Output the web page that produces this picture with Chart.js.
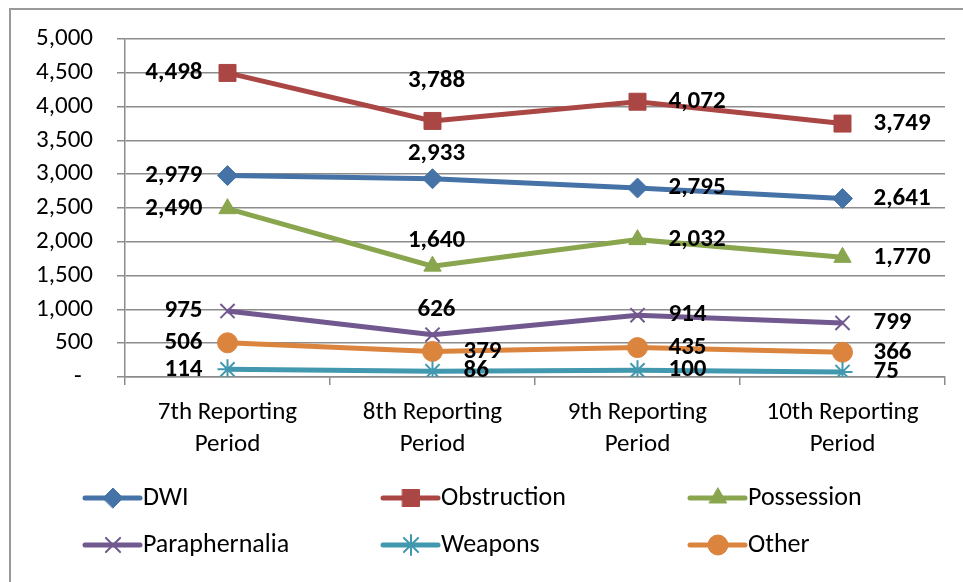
<!DOCTYPE html>
<html>
<head>
<meta charset="utf-8">
<title>Offenses by Reporting Period</title>
<script src="https://cdn.jsdelivr.net/npm/chart.js@4.4.1/dist/chart.umd.min.js"></script>
<style>
  body { margin: 0; background: #fff; }
  canvas { display: block; }
</style>
</head>
<body>
<canvas id="lineChart" width="963" height="582"></canvas>
<script>
// categories along the x axis (two-line labels)
const periods = [
  ['7th Reporting', 'Period'],
  ['8th Reporting', 'Period'],
  ['9th Reporting', 'Period'],
  ['10th Reporting', 'Period']
];

// offense counts per reporting period
const dwi           = [2979, 2933, 2795, 2641];
const obstruction   = [4498, 3788, 4072, 3749];
const possession    = [2490, 1640, 2032, 1770];
const paraphernalia = [975, 626, 914, 799];
const weapons       = [114, 86, 100, 75];
const other         = [506, 379, 435, 366];

// y axis range
const yMin = 0;
const yMax = 5000;
const yStep = 500;

const FONT = "Carlito, Lato, 'Liberation Sans', sans-serif";
const GRID = '#8c8c8c';

function series(label, values, color, style, radius, labelAt) {
  const stroked = style === 'crossRot' || style === 'star';
  return {
    label: label,
    data: values,
    borderColor: color,
    backgroundColor: color,
    borderWidth: 5,
    pointStyle: style,
    pointRadius: radius,
    pointBorderWidth: stroked ? 2 : 1,
    pointBackgroundColor: color,
    pointBorderColor: color,
    tension: 0,
    labelAt: labelAt
  };
}

const datasets = [
  series('DWI', dwi, '#4572A7', 'rectRot', 10, ['left', 'above', 'right', 'right']),
  series('Obstruction', obstruction, '#AA4643', 'rect', 12, ['left', 'high', 'right', 'right']),
  series('Possession', possession, '#89A54E', 'triangle', 10, ['left', 'above', 'right', 'right']),
  series('Paraphernalia', paraphernalia, '#71588F', 'crossRot', 10, ['left', 'above', 'right', 'right']),
  series('Weapons', weapons, '#4198AF', 'star', 10, ['left', 'right', 'right', 'right']),
  series('Other', other, '#DB843D', 'circle', 10, ['left', 'right', 'right', 'right'])
];

// bold value labels next to every point
const valueLabels = {
  id: 'valueLabels',
  afterDatasetsDraw(chart) {
    const ctx = chart.ctx;
    ctx.save();
    ctx.font = 'bold 25px ' + FONT;
    ctx.fillStyle = '#000';
    ctx.textBaseline = 'middle';
    chart.data.datasets.forEach((ds, i) => {
      chart.getDatasetMeta(i).data.forEach((pt, j) => {
        const text = ds.data[j].toLocaleString('en-US');
        const spot = ds.labelAt[j];
        if (spot === 'left') {
          ctx.textAlign = 'right';
          ctx.fillText(text, pt.x - 25, pt.y);
        } else if (spot === 'right') {
          ctx.textAlign = 'left';
          ctx.fillText(text, pt.x + 31, pt.y);
        } else {
          ctx.textAlign = 'center';
          ctx.fillText(text, pt.x + 4, pt.y - (spot === 'high' ? 40 : 25));
        }
      });
    });
    ctx.restore();
  }
};

// legend in three columns below the axis
const gridLegend = {
  id: 'gridLegend',
  afterDraw(chart) {
    const ctx = chart.ctx;
    const cols = [85, 383, 690];
    const rows = [498, 545];
    ctx.save();
    chart.data.datasets.forEach((ds, i) => {
      const x = cols[i % 3];
      const y = rows[Math.floor(i / 3)];
      ctx.strokeStyle = ds.borderColor;
      ctx.fillStyle = ds.backgroundColor;
      ctx.lineWidth = 5;
      ctx.lineCap = 'round';
      ctx.beginPath();
      ctx.moveTo(x, y);
      ctx.lineTo(x + 55, y);
      ctx.stroke();
      ctx.lineWidth = ds.pointBorderWidth;
      Chart.helpers.drawPoint(ctx, {
        pointStyle: ds.pointStyle,
        radius: ds.pointRadius,
        rotation: 0,
        borderWidth: ds.pointBorderWidth
      }, x + 28, y);
      ctx.fillStyle = '#000';
      ctx.font = '26px ' + FONT;
      ctx.textAlign = 'left';
      ctx.textBaseline = 'middle';
      ctx.fillText(ds.label, x + 58, y);
    });
    ctx.restore();
  }
};

// frame along the top and left edges
const frame = {
  id: 'frame',
  beforeDraw(chart) {
    const ctx = chart.ctx;
    ctx.save();
    ctx.fillStyle = '#fff';
    ctx.fillRect(0, 0, chart.width, chart.height);
    ctx.strokeStyle = '#999';
    ctx.lineWidth = 2;
    ctx.beginPath();
    ctx.moveTo(10, chart.height);
    ctx.lineTo(10, 9);
    ctx.lineTo(chart.width, 9);
    ctx.stroke();
    ctx.restore();
  }
};

Chart.defaults.font.family = FONT;
Chart.defaults.color = '#000';

const config = {
  type: 'line',
  data: { labels: periods, datasets: datasets },
  options: {
    responsive: false,
    animation: false,
    layout: { padding: { left: 0, right: 18, top: 38, bottom: 123 } },
    plugins: {
      legend: { display: false },
      tooltip: { enabled: false }
    },
    scales: {
      x: {
        offset: true,
        grid: { offset: true, drawOnChartArea: false, tickLength: 8, color: GRID, lineWidth: 1.5 },
        border: { color: GRID, width: 1.5 },
        ticks: { font: { size: 25, lineHeight: 1.3 }, padding: 11, maxRotation: 0 },
        afterFit(scale) { scale.height = 82; }
      },
      y: {
        min: yMin,
        max: yMax,
        grid: { tickLength: 8, color: GRID, lineWidth: 1.5 },
        border: { color: GRID, width: 1.5 },
        ticks: {
          stepSize: yStep,
          padding: 24,
          font: { size: 25 },
          callback: v => v === 0 ? '-  ' : v.toLocaleString('en-US')
        },
        afterFit(scale) { scale.width = 125; }
      }
    }
  },
  plugins: [frame, valueLabels, gridLegend]
};

const myChart = new Chart(document.getElementById('lineChart'), config);
</script>
</body>
</html>
